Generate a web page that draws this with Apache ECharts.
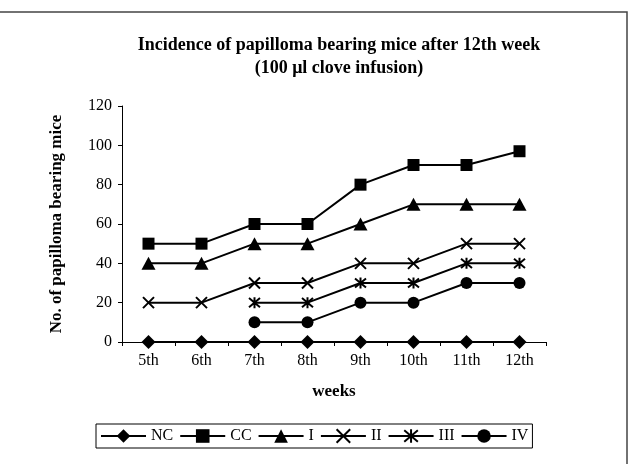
<!DOCTYPE html>
<html>
<head>
<meta charset="utf-8">
<script src="https://cdn.jsdelivr.net/npm/echarts@6/dist/echarts.min.js"></script>
<style>
  html, body { margin: 0; padding: 0; background: #fff; }
  #chart { width: 634px; height: 464px; }
</style>
</head>
<body>
<div id="chart"></div>
<script>
const weeks = ["5th", "6th", "7th", "8th", "9th", "10th", "11th", "12th"]
const yTicks = { min: 0, max: 120, interval: 20 }

const nc = [0, 0, 0, 0, 0, 0, 0, 0]
const cc = [50, 50, 60, 60, 80, 90, 90, 97]
const grpI = [40, 40, 50, 50, 60, 70, 70, 70]
const grpII = [20, 20, 30, 30, 40, 40, 50, 50]
const grpIII = [null, null, 20, 20, 30, 30, 40, 40]
const grpIV = [null, null, 10, 10, 20, 20, 30, 30]

const font = "'Liberation Serif', 'Times New Roman', serif"

const crossPath = "path://M0,0L10,10M10,0L0,10"
const starPath = "path://M0,0L10,10M10,0L0,10M5,-1L5,11"

const mkSeries = (name, data, symbol, size, stroked) => ({
  name: name,
  type: "line",
  data: data,
  symbol: symbol,
  symbolSize: size,
  showSymbol: true,
  connectNulls: false,
  lineStyle: { color: "#000", width: 2 },
  itemStyle: stroked
    ? { color: "#000", borderColor: "#000", borderWidth: 2 }
    : { color: "#000", borderWidth: 0 },
  emphasis: { disabled: true }
})

const chart = echarts.init(document.getElementById("chart"), null, { renderer: "canvas" })

chart.setOption({
  animation: false,
  backgroundColor: "#fff",
  title: {
    text: "Incidence of papilloma bearing mice after 12th week\n(100 \u03bcl clove infusion)",
    left: 334,
    top: 29,
    textAlign: "center",
    textStyle: { fontFamily: font, fontSize: 18, fontWeight: "bold", color: "#000", lineHeight: 23 }
  },
  graphic: [{
    type: "rect",
    shape: { x: -5, y: 12, width: 632, height: 470 },
    style: { fill: "none", stroke: "#444", lineWidth: 1.5 },
    silent: true
  }],
  grid: { left: 122, right: 88, top: 106, bottom: 122 },
  legend: {
    bottom: 16,
    left: 96,
    padding: [4, 4],
    itemWidth: 45,
    itemHeight: 17,
    itemGap: 6,
    borderColor: "#000",
    borderWidth: 1,
    textStyle: { fontFamily: font, fontSize: 16, color: "#000" },
    data: ["NC", "CC", "I", "II", "III", "IV"]
  },
  xAxis: {
    type: "category",
    data: weeks,
    boundaryGap: true,
    name: "weeks",
    nameLocation: "middle",
    nameGap: 41,
    nameTextStyle: { fontFamily: font, fontSize: 17, fontWeight: "bold", color: "#000" },
    axisLine: { lineStyle: { color: "#000", width: 1 } },
    axisTick: { show: true, length: 4, inside: false, lineStyle: { color: "#000" } },
    axisLabel: { fontFamily: font, fontSize: 16, color: "#000", margin: 11 },
    splitLine: { show: false }
  },
  yAxis: {
    type: "value",
    min: yTicks.min,
    max: yTicks.max,
    interval: yTicks.interval,
    name: "No. of papilloma bearing mice",
    nameLocation: "middle",
    nameGap: 57,
    nameTextStyle: { fontFamily: font, fontSize: 17, fontWeight: "bold", color: "#000" },
    axisLine: { show: true, lineStyle: { color: "#000", width: 1 } },
    axisTick: { show: true, length: 4, lineStyle: { color: "#000" } },
    axisLabel: { fontFamily: font, fontSize: 16, color: "#000", margin: 10 },
    splitLine: { show: false }
  },
  series: [
    mkSeries("NC", nc, "diamond", [14, 14], false),
    mkSeries("CC", cc, "rect", [12, 12], false),
    mkSeries("I", grpI, "triangle", [14, 13], false),
    mkSeries("II", grpII, crossPath, [11, 11], true),
    mkSeries("III", grpIII, starPath, [11, 11], true),
    mkSeries("IV", grpIV, "circle", 12, false)
  ]
})
</script>
</body>
</html>
